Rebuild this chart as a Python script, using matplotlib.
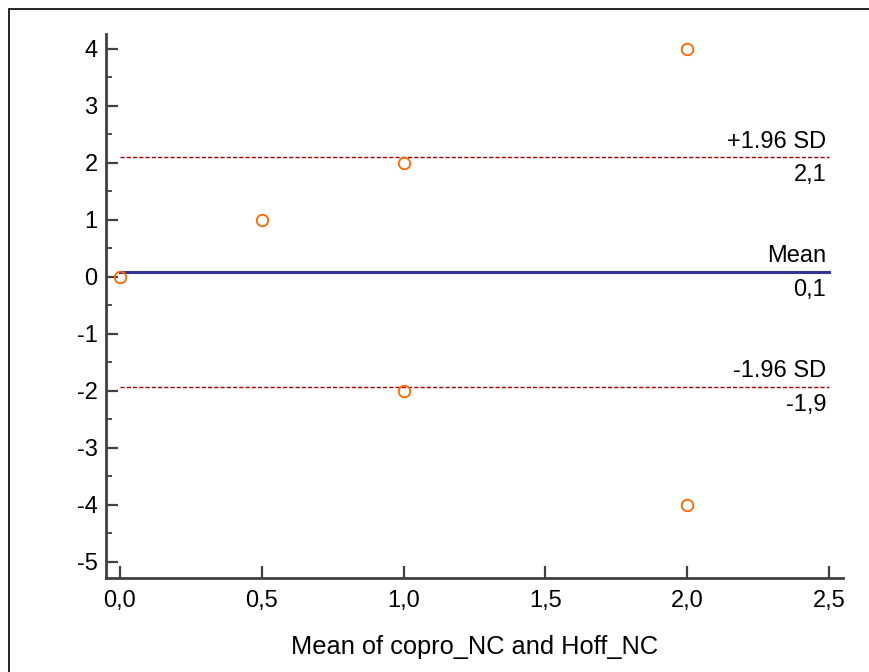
import matplotlib
matplotlib.use("Agg")
import matplotlib.pyplot as plt
from matplotlib.patches import Rectangle
from matplotlib.ticker import FuncFormatter, MultipleLocator

plt.rcParams['font.family'] = ['Liberation Sans', 'DejaVu Sans']
plt.rcParams['axes.unicode_minus'] = False

# Bland-Altman data: mean of the two methods vs. difference
mean_vals = [0.0, 0.5, 1.0, 1.0, 2.0, 2.0]
diff_vals = [0.0, 1.0, 2.0, -2.0, 4.0, -4.0]

bias = 0.08
upper_loa = 2.09
lower_loa = -1.93
line_names = ['+1.96 SD', 'Mean', '-1.96 SD']
line_values = [upper_loa, bias, lower_loa]

x_label = "Mean of copro_NC and Hoff_NC"

fig = plt.figure(figsize=(8.69, 6.72), dpi=100)
ax = fig.add_axes([0.122, 0.140, 0.848, 0.809])

# frame around the whole picture
fig.patches.append(Rectangle((9 / 869, -0.1), 1.2, 1.1 - 9.5 / 672,
                             transform=fig.transFigure, fill=False,
                             edgecolor='black', linewidth=1.2))

x_end = 2.5
ax.plot([0.0, x_end], [bias, bias], color='#333399', linewidth=2.2, zorder=2)
ax.plot([0.0, x_end], [upper_loa, upper_loa], color='#a00000', linewidth=1.0,
        linestyle=(0, (3, 1.5)), zorder=2)
ax.plot([0.0, x_end], [lower_loa, lower_loa], color='#a00000', linewidth=1.0,
        linestyle=(0, (3, 1.5)), zorder=2)

ax.plot(mean_vals, diff_vals, linestyle='none', marker='o', markersize=8.3,
        markerfacecolor='none', markeredgecolor='#ff6600', markeredgewidth=1.3,
        zorder=3)

# labels for the reference lines
for name, val in zip(line_names, line_values):
    ax.annotate(name, (x_end, val), xytext=(-2, 3.5), textcoords='offset points',
                ha='right', va='bottom', fontsize=17)
    ax.annotate(f"{val:.1f}".replace('.', ','), (x_end, val), xytext=(-2, -5),
                textcoords='offset points', ha='right', va='top', fontsize=17)

ax.set_xlim(-0.049, 2.549)
ax.set_ylim(-5.28, 4.25)

ax.xaxis.set_major_locator(MultipleLocator(0.5))
ax.xaxis.set_major_formatter(FuncFormatter(lambda v, p: f"{v:.1f}".replace('.', ',').replace('-0,0', '0,0')))
ax.yaxis.set_major_locator(MultipleLocator(1))
ax.yaxis.set_minor_locator(MultipleLocator(0.5))
ax.yaxis.set_major_formatter(FuncFormatter(lambda v, p: f"{v:.0f}"))

for s in ['top', 'right']:
    ax.spines[s].set_visible(False)
for s in ['left', 'bottom']:
    ax.spines[s].set_linewidth(2)
    ax.spines[s].set_color('#404040')

ax.tick_params(axis='both', which='major', direction='in', length=8.5,
               width=1.6, color='#404040', labelsize=17)
ax.tick_params(axis='y', which='minor', direction='in', length=4.5,
               width=1.3, color='#404040')
ax.tick_params(axis='x', pad=9)
ax.tick_params(axis='y', pad=6)

ax.set_xlabel(x_label, fontsize=18.3, labelpad=16)

fig.savefig("out.png", dpi=100)
